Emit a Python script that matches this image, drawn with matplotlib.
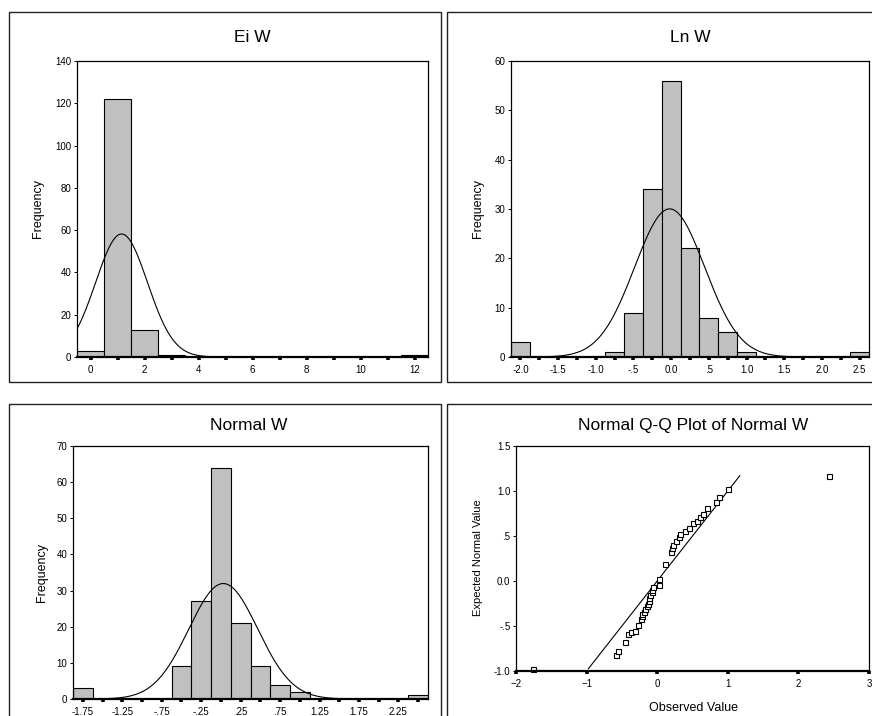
import numpy as np
from matplotlib import pyplot as plt
from matplotlib.patches import Rectangle
from matplotlib.ticker import FixedLocator, FuncFormatter

plt.rcParams['font.family'] = ['Liberation Sans', 'DejaVu Sans']

W, H = 872, 716

# histogram data (bin centres, counts)
ei_centers = [0, 1, 2, 3, 12]
ei_counts = [3, 122, 13, 1, 1]
ei_mean, ei_sd = 1.15, 0.96

ln_centers = [-2.0, -0.75, -0.5, -0.25, 0.0, 0.25, 0.5, 0.75, 1.0, 2.5]
ln_counts = [3, 1, 9, 34, 56, 22, 8, 5, 1, 1]
ln_mean, ln_sd = -0.02, 0.465

nw_centers = [-1.75, -0.5, -0.25, 0.0, 0.25, 0.5, 0.75, 1.0, 2.5]
nw_counts = [3, 9, 27, 64, 21, 9, 4, 2, 1]
nw_mean, nw_sd = 0.03, 0.437

# Q-Q points (observed, expected)
qq_obs = [-1.76, -0.58, -0.55, -0.455, -0.41, -0.365, -0.31, -0.275, -0.23, -0.22,
          -0.21, -0.185, -0.166, -0.147, -0.137, -0.123, -0.11, -0.095, -0.08, -0.07,
          -0.057, 0.02, 0.024, 0.11, 0.194, 0.21, 0.22, 0.26, 0.313, 0.33,
          0.40, 0.45, 0.51, 0.56, 0.60, 0.654, 0.70, 0.834, 0.872, 1.0, 2.44]
qq_exp = [-0.98, -0.82, -0.78, -0.674, -0.59, -0.57, -0.55, -0.49, -0.42, -0.385,
          -0.367, -0.34, -0.31, -0.28, -0.255, -0.22, -0.185, -0.155, -0.126, -0.096,
          -0.07, -0.044, 0.022, 0.19, 0.326, 0.37, 0.40, 0.44, 0.485, 0.52,
          0.555, 0.59, 0.64, 0.67, 0.715, 0.75, 0.807, 0.874, 0.933, 1.02, 1.167]
qq_line = [-0.975, 1.17]


def make_fmt(nd):
    # SPSS style: ".5", "-.25", "0.0"
    def f(v, pos=None):
        s = f"{v:.{nd}f}"
        if s.startswith("-0") and abs(v) < 1e-9:
            s = s[1:]
        if s.startswith("0.") and abs(v) > 1e-9:
            s = s[1:]
        elif s.startswith("-0."):
            s = "-" + s[2:]
        return s
    return f


def px_axes(l, t, r, b):
    return fig.add_axes([l / W, 1 - b / H, (r - l) / W, (b - t) / H])


def style(ax):
    for sp in ax.spines.values():
        sp.set_linewidth(0.9)
    ax.spines['bottom'].set_linewidth(1.6)
    ax.tick_params(axis='x', which='both', direction='out', length=2.5, width=2.6,
                   labelsize=7, pad=3)
    ax.tick_params(axis='y', which='both', direction='out', length=2, width=0.7,
                   labelsize=7, pad=2)


def histogram(ax, centers, counts, bw, mean, sd, xlim):
    c = np.array(centers)
    h = np.array(counts)
    ax.bar(c, h, width=bw, color='#c0c0c0', edgecolor='black', linewidth=0.8, zorder=2)
    xs = np.linspace(xlim[0], xlim[1], 400)
    n = h.sum()
    ys = n * bw / (sd * np.sqrt(2 * np.pi)) * np.exp(-(xs - mean) ** 2 / (2 * sd ** 2))
    ax.plot(xs, ys, color='black', lw=0.8, zorder=3)
    ax.set_xlim(*xlim)


fig = plt.figure(figsize=(W / 100, H / 100), dpi=100)

# panel borders
for (x0, y0, x1, y1) in [(9, 12, 441, 382), (447, 12, 880, 382),
                         (9, 404, 441, 730), (447, 404, 880, 730)]:
    fig.add_artist(Rectangle((x0 / W, 1 - y1 / H), (x1 - x0) / W, (y1 - y0) / H,
                             transform=fig.transFigure, fill=False, lw=1.0,
                             edgecolor='#222222'))

# Ei W
ax1 = px_axes(77, 61, 428, 357)
histogram(ax1, ei_centers, ei_counts, 1.0, ei_mean, ei_sd, (-0.5, 12.5))
ax1.set_ylim(0, 140)
ax1.set_yticks(range(0, 141, 20))
ax1.set_xticks(range(0, 13, 2))
ax1.xaxis.set_minor_locator(FixedLocator(range(1, 13, 2)))
style(ax1)

# Ln W
ax2 = px_axes(511, 61, 869, 357)
histogram(ax2, ln_centers, ln_counts, 0.25, ln_mean, ln_sd, (-2.125, 2.625))
ax2.set_ylim(0, 60)
ax2.set_yticks(range(0, 61, 10))
ax2.set_xticks(np.arange(-2.0, 2.51, 0.5))
ax2.xaxis.set_minor_locator(FixedLocator(np.arange(-1.75, 2.5, 0.5)))
ax2.xaxis.set_major_formatter(FuncFormatter(make_fmt(1)))
style(ax2)

# Normal W
ax3 = px_axes(73, 446, 428, 699)
histogram(ax3, nw_centers, nw_counts, 0.25, nw_mean, nw_sd, (-1.875, 2.625))
ax3.set_ylim(0, 70)
ax3.set_yticks(range(0, 71, 10))
ax3.set_xticks(np.arange(-1.75, 2.26, 0.5))
ax3.xaxis.set_minor_locator(FixedLocator(np.arange(-1.5, 2.51, 0.5)))
ax3.xaxis.set_major_formatter(FuncFormatter(make_fmt(2)))
style(ax3)

# Q-Q plot
ax4 = px_axes(516, 446, 869, 671)
ax4.plot(qq_line, qq_line, color='black', lw=0.8)
ax4.plot(qq_obs, qq_exp, linestyle='none', marker='s', markersize=3.6,
         markerfacecolor='white', markeredgecolor='black', markeredgewidth=0.8,
         clip_on=False)
ax4.set_xlim(-2, 3)
ax4.set_ylim(-1.0, 1.5)
ax4.set_xticks(range(-2, 4))
ax4.set_yticks(np.arange(-1.0, 1.51, 0.5))
ax4.yaxis.set_major_formatter(FuncFormatter(make_fmt(1)))
style(ax4)


# titles and labels
def ftext(x, y, s, **kw):
    fig.text(x / W, 1 - y / H, s, ha='center', va='center', **kw)


ftext(252, 37, 'Ei W', fontsize=12.5)
ftext(690, 37, 'Ln W', fontsize=12.5)
ftext(249, 426, 'Normal W', fontsize=12.5)
ftext(693, 426, 'Normal Q-Q Plot of Normal W', fontsize=12.5)

ftext(38, 209, 'Frequency', fontsize=9, rotation=90)
ftext(478, 209, 'Frequency', fontsize=9, rotation=90)
ftext(42, 572, 'Frequency', fontsize=9, rotation=90)
ftext(478, 558, 'Expected Normal Value', fontsize=8, rotation=90)
ftext(693, 708, 'Observed Value', fontsize=9)

fig.savefig('out.png', dpi=100)
